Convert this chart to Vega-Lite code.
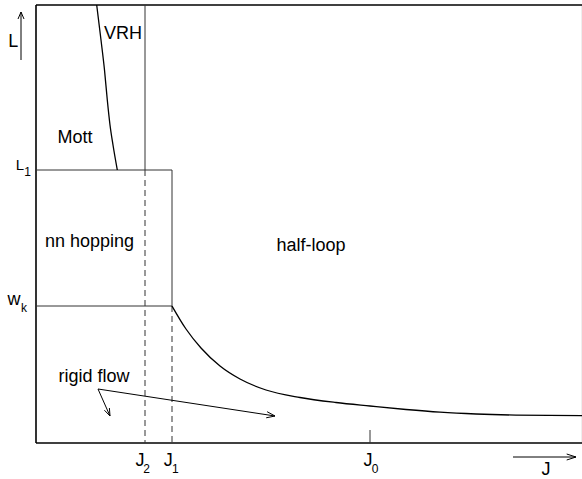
{
  "$schema": "https://vega.github.io/schema/vega-lite/v6.json",
  "width": 546,
  "height": 438,
  "autosize": "none",
  "padding": {"left": 36, "top": 5, "right": 0, "bottom": 36},
  "background": "white",
  "config": {"view": {"stroke": null}},
  "datasets": {
    "segs": [
      {"g": "frameL", "k": "frame", "o": 0, "x": 0, "y": 0},
      {"g": "frameL", "k": "frame", "o": 1, "x": 0, "y": 438},
      {"g": "frameT", "k": "frame", "o": 0, "x": 0, "y": 438},
      {"g": "frameT", "k": "frame", "o": 1, "x": 546, "y": 438},
      {"g": "frameB", "k": "frame", "o": 0, "x": 0, "y": 0},
      {"g": "frameB", "k": "frame", "o": 1, "x": 546, "y": 0},
      {"g": "frameR", "k": "faint", "o": 0, "x": 546, "y": 0},
      {"g": "frameR", "k": "faint", "o": 1, "x": 546, "y": 438},
      {"g": "J2solid", "k": "thin", "o": 0, "x": 109, "y": 438},
      {"g": "J2solid", "k": "thin", "o": 1, "x": 109, "y": 273},
      {"g": "L1", "k": "thin", "o": 0, "x": 0, "y": 273},
      {"g": "L1", "k": "thin", "o": 1, "x": 136, "y": 273},
      {"g": "J1solid", "k": "thin", "o": 0, "x": 136, "y": 273},
      {"g": "J1solid", "k": "thin", "o": 1, "x": 136, "y": 137},
      {"g": "wk", "k": "thin", "o": 0, "x": 0, "y": 137},
      {"g": "wk", "k": "thin", "o": 1, "x": 136, "y": 137},
      {"g": "J0tick", "k": "thin", "o": 0, "x": 334, "y": 0},
      {"g": "J0tick", "k": "thin", "o": 1, "x": 334, "y": 13},
      {"g": "J2dash", "k": "dash", "o": 0, "x": 109, "y": 273},
      {"g": "J2dash", "k": "dash", "o": 1, "x": 109, "y": 0},
      {"g": "J1dash", "k": "dash", "o": 0, "x": 136, "y": 137},
      {"g": "J1dash", "k": "dash", "o": 1, "x": 136, "y": 0},
      {"g": "vrh", "k": "curve", "o": 0, "x": 60.7, "y": 438},
      {"g": "vrh", "k": "curve", "o": 1, "x": 65, "y": 403},
      {"g": "vrh", "k": "curve", "o": 2, "x": 68.5, "y": 373},
      {"g": "vrh", "k": "curve", "o": 3, "x": 71.3, "y": 343},
      {"g": "vrh", "k": "curve", "o": 4, "x": 74, "y": 318},
      {"g": "vrh", "k": "curve", "o": 5, "x": 77, "y": 298},
      {"g": "vrh", "k": "curve", "o": 6, "x": 81.3, "y": 273},
      {"g": "loop", "k": "curve", "o": 0, "x": 136, "y": 137},
      {"g": "loop", "k": "curve", "o": 1, "x": 150, "y": 114},
      {"g": "loop", "k": "curve", "o": 2, "x": 165, "y": 95},
      {"g": "loop", "k": "curve", "o": 3, "x": 184, "y": 77},
      {"g": "loop", "k": "curve", "o": 4, "x": 204, "y": 64},
      {"g": "loop", "k": "curve", "o": 5, "x": 230, "y": 53},
      {"g": "loop", "k": "curve", "o": 6, "x": 264, "y": 45.5},
      {"g": "loop", "k": "curve", "o": 7, "x": 300, "y": 40.5},
      {"g": "loop", "k": "curve", "o": 8, "x": 334, "y": 37},
      {"g": "loop", "k": "curve", "o": 9, "x": 370, "y": 33.5},
      {"g": "loop", "k": "curve", "o": 10, "x": 404, "y": 30.8},
      {"g": "loop", "k": "curve", "o": 11, "x": 440, "y": 29},
      {"g": "loop", "k": "curve", "o": 12, "x": 480, "y": 27.9},
      {"g": "loop", "k": "curve", "o": 13, "x": 546, "y": 27.3},
      {"g": "Lshaft", "k": "arrow", "o": 0, "x": -15, "y": 383},
      {"g": "Lshaft", "k": "arrow", "o": 1, "x": -15, "y": 431},
      {"g": "Lhead", "k": "arrow", "o": 0, "x": -18, "y": 424},
      {"g": "Lhead", "k": "arrow", "o": 1, "x": -15, "y": 431},
      {"g": "Lhead", "k": "arrow", "o": 2, "x": -12, "y": 424},
      {"g": "Jshaft", "k": "arrow", "o": 0, "x": 477, "y": -14},
      {"g": "Jshaft", "k": "arrow", "o": 1, "x": 540, "y": -14},
      {"g": "Jhead", "k": "arrow", "o": 0, "x": 530.7, "y": -11},
      {"g": "Jhead", "k": "arrow", "o": 1, "x": 540, "y": -14},
      {"g": "Jhead", "k": "arrow", "o": 2, "x": 530.7, "y": -17},
      {"g": "rf1", "k": "arrow", "o": 0, "x": 62, "y": 54},
      {"g": "rf1", "k": "arrow", "o": 1, "x": 74, "y": 27},
      {"g": "rf1h", "k": "arrow", "o": 0, "x": 73.4, "y": 35},
      {"g": "rf1h", "k": "arrow", "o": 1, "x": 74, "y": 27},
      {"g": "rf1h", "k": "arrow", "o": 2, "x": 68.4, "y": 32.8},
      {"g": "rf2", "k": "arrow", "o": 0, "x": 62, "y": 54},
      {"g": "rf2", "k": "arrow", "o": 1, "x": 239, "y": 27},
      {"g": "rf2h", "k": "arrow", "o": 0, "x": 231.1, "y": 31.3},
      {"g": "rf2h", "k": "arrow", "o": 1, "x": 239, "y": 27},
      {"g": "rf2h", "k": "arrow", "o": 2, "x": 230.2, "y": 25.2}
    ],
    "labels": [
      {"t": "VRH", "r": "main", "x": 87, "y": 404},
      {"t": "Mott", "r": "main", "x": 39, "y": 300},
      {"t": "nn hopping", "r": "main", "x": 53.5, "y": 196.3},
      {"t": "half-loop", "r": "main", "x": 275, "y": 192.5},
      {"t": "rigid flow", "r": "main", "x": 58, "y": 61.3},
      {"t": "L", "r": "main", "x": -22.7, "y": 396.3},
      {"t": "L", "r": "mid", "x": -16, "y": 273},
      {"t": "1", "r": "sub", "x": -8.5, "y": 267},
      {"t": "w", "r": "main", "x": -22, "y": 138},
      {"t": "k", "r": "sub", "x": -12, "y": 131.3},
      {"t": "J", "r": "main", "x": 104, "y": -23},
      {"t": "2", "r": "sub", "x": 110.5, "y": -30},
      {"t": "J", "r": "main", "x": 132.3, "y": -23},
      {"t": "1", "r": "sub", "x": 139.3, "y": -30},
      {"t": "J", "r": "main", "x": 332, "y": -23},
      {"t": "0", "r": "sub", "x": 339, "y": -30},
      {"t": "J", "r": "main", "x": 510, "y": -32}
    ]
  },
  "encoding": {
    "x": {"field": "x", "type": "quantitative", "scale": {"domain": [0, 546], "nice": false, "zero": false}, "axis": null},
    "y": {"field": "y", "type": "quantitative", "scale": {"domain": [0, 438], "nice": false, "zero": false}, "axis": null}
  },
  "layer": [
    {
      "data": {"name": "segs"},
      "transform": [{"filter": "datum.k === 'faint'"}],
      "mark": {"type": "line", "stroke": "#dddddd", "strokeWidth": 1},
      "encoding": {"detail": {"field": "g"}, "order": {"field": "o"}}
    },
    {
      "data": {"name": "segs"},
      "transform": [{"filter": "datum.k === 'frame'"}],
      "mark": {"type": "line", "stroke": "#000000", "strokeWidth": 1.6},
      "encoding": {"detail": {"field": "g"}, "order": {"field": "o"}}
    },
    {
      "data": {"name": "segs"},
      "transform": [{"filter": "datum.k === 'thin'"}],
      "mark": {"type": "line", "stroke": "#333333", "strokeWidth": 1},
      "encoding": {"detail": {"field": "g"}, "order": {"field": "o"}}
    },
    {
      "data": {"name": "segs"},
      "transform": [{"filter": "datum.k === 'dash'"}],
      "mark": {"type": "line", "stroke": "#333333", "strokeWidth": 1, "strokeDash": [6, 4]},
      "encoding": {"detail": {"field": "g"}, "order": {"field": "o"}}
    },
    {
      "data": {"name": "segs"},
      "transform": [{"filter": "datum.k === 'curve'"}],
      "mark": {"type": "line", "stroke": "#000000", "strokeWidth": 1.3, "interpolate": "monotone"},
      "encoding": {"detail": {"field": "g"}, "order": {"field": "o"}}
    },
    {
      "data": {"name": "segs"},
      "transform": [{"filter": "datum.k === 'arrow'"}],
      "mark": {"type": "line", "stroke": "#000000", "strokeWidth": 1},
      "encoding": {"detail": {"field": "g"}, "order": {"field": "o"}}
    },
    {
      "data": {"name": "labels"},
      "transform": [{"filter": "datum.r === 'main'"}],
      "mark": {"type": "text", "font": "Liberation Sans", "fontSize": 18, "align": "center", "baseline": "alphabetic", "color": "#000000"},
      "encoding": {"text": {"field": "t"}}
    },
    {
      "data": {"name": "labels"},
      "transform": [{"filter": "datum.r === 'mid'"}],
      "mark": {"type": "text", "font": "Liberation Sans", "fontSize": 15, "align": "center", "baseline": "alphabetic", "color": "#000000"},
      "encoding": {"text": {"field": "t"}}
    },
    {
      "data": {"name": "labels"},
      "transform": [{"filter": "datum.r === 'sub'"}],
      "mark": {"type": "text", "font": "Liberation Sans", "fontSize": 12, "align": "center", "baseline": "alphabetic", "color": "#000000"},
      "encoding": {"text": {"field": "t"}}
    }
  ]
}
